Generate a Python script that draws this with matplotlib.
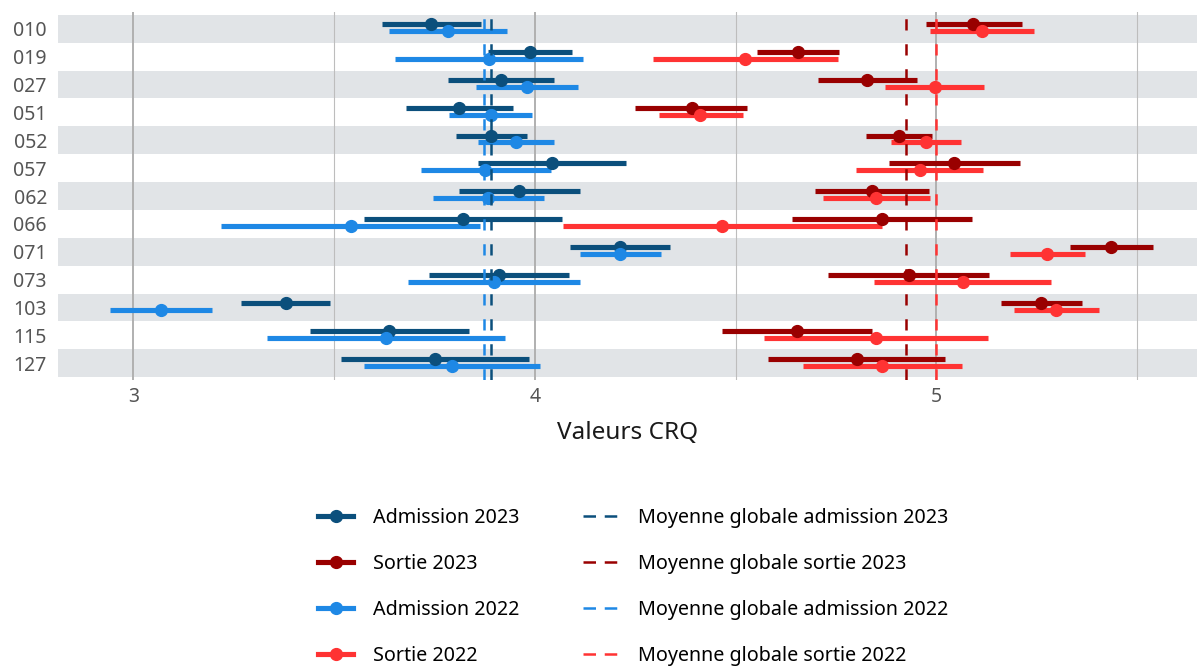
import numpy as np
import matplotlib
matplotlib.use("Agg")
import matplotlib.pyplot as plt
from matplotlib.lines import Line2D

plt.rcParams['font.family'] = ['Noto Sans', 'DejaVu Sans']

# unites (de haut en bas)
unites = ["010", "019", "027", "051", "052", "057", "062", "066", "071", "073", "103", "115", "127"]

# admission 2023 : borne basse, moyenne, borne haute
adm23_bas = [3.618, 3.883, 3.783, 3.678, 3.804, 3.859, 3.812, 3.574, 4.087, 3.737, 3.268, 3.439, 3.517]
adm23_moy = [3.741, 3.988, 3.915, 3.811, 3.891, 4.042, 3.961, 3.822, 4.212, 3.911, 3.379, 3.637, 3.750]
adm23_haut = [3.865, 4.093, 4.048, 3.945, 3.980, 4.226, 4.112, 4.068, 4.337, 4.086, 3.490, 3.836, 3.985]

# sortie 2023
sor23_bas = [4.973, 4.553, 4.704, 4.250, 4.825, 4.882, 4.697, 4.641, 5.332, 4.731, 5.161, 4.465, 4.580]
sor23_moy = [5.092, 4.656, 4.828, 4.390, 4.907, 5.044, 4.839, 4.864, 5.436, 4.931, 5.261, 4.652, 4.802]
sor23_haut = [5.213, 4.758, 4.951, 4.529, 4.989, 5.208, 4.982, 5.088, 5.540, 5.131, 5.363, 4.840, 5.022]

# admission 2022
adm22_bas = [3.636, 3.651, 3.853, 3.786, 3.858, 3.715, 3.746, 3.218, 4.113, 3.684, 2.942, 3.333, 3.574]
adm22_moy = [3.783, 3.886, 3.981, 3.890, 3.952, 3.876, 3.883, 3.541, 4.212, 3.897, 3.069, 3.629, 3.794]
adm22_haut = [3.931, 4.120, 4.108, 3.993, 4.048, 4.040, 4.023, 3.863, 4.313, 4.112, 3.195, 3.926, 4.013]

# sortie 2022
sor22_bas = [4.985, 4.295, 4.873, 4.310, 4.888, 4.799, 4.717, 4.070, 5.182, 4.845, 5.192, 4.570, 4.668]
sor22_moy = [5.113, 4.524, 4.996, 4.412, 4.975, 4.958, 4.849, 4.466, 5.276, 5.065, 5.297, 4.849, 4.865]
sor22_haut = [5.242, 4.754, 5.119, 4.517, 5.062, 5.116, 4.984, 4.864, 5.371, 5.285, 5.405, 5.128, 5.064]

# moyennes globales
moy_globale = {"adm23": 3.891, "sor23": 4.924, "adm22": 3.874, "sor22": 5.0}

c_adm23 = "#0b4f7c"
c_sor23 = "#990000"
c_adm22 = "#1e88e5"
c_sor22 = "#ff3333"

fig = plt.figure(figsize=(11.97, 6.66), dpi=100)
ax = fig.add_axes([58/1197, 1 - 380/666, 1 - 58/1197, 368/666])

n = len(unites)
y = np.arange(n)

# bandes grises alternees
for i in range(0, n, 2):
    ax.axhspan(i - 0.5, i + 0.5, color="#e1e4e7", lw=0, zorder=0)

# grille
for v in [3, 4, 5]:
    ax.axvline(v, color="#b0b0b0", lw=1.4, zorder=1)
for v in [3.5, 4.5, 5.5]:
    ax.axvline(v, color="#bdbdbd", lw=0.8, zorder=1)

lw_bar = 3.7
ms = 8.5
series = [
    (adm23_bas, adm23_moy, adm23_haut, c_adm23, -0.17),
    (sor23_bas, sor23_moy, sor23_haut, c_sor23, -0.17),
    (adm22_bas, adm22_moy, adm22_haut, c_adm22, 0.08),
    (sor22_bas, sor22_moy, sor22_haut, c_sor22, 0.08),
]
for bas, moy, haut, col, dy in series:
    yy = y + dy
    ax.hlines(yy, bas, haut, color=col, lw=lw_bar, zorder=3)
    ax.plot(moy, yy, 'o', color=col, ms=ms, zorder=4)

dash = (4.5, 5.5)
ax.axvline(moy_globale["adm22"], color=c_adm22, lw=1.8, dashes=dash, zorder=5)
ax.axvline(moy_globale["adm23"], color=c_adm23, lw=1.8, dashes=dash, zorder=5)
ax.axvline(moy_globale["sor23"], color=c_sor23, lw=1.8, dashes=dash, zorder=5)
ax.axvline(moy_globale["sor22"], color=c_sor22, lw=1.8, dashes=dash, zorder=5)

ax.set_xlim(2.812, 5.649)
ax.set_ylim(n - 1 + 0.6, -0.6)
ax.set_yticks(y)
ax.set_yticklabels(unites)
ax.set_xticks([3, 4, 5])
ax.set_xticklabels(["3", "4", "5"])
ax.tick_params(axis='both', length=0, labelsize=14, colors="#555555")
ax.tick_params(axis='y', pad=8)
ax.tick_params(axis='x', pad=5)
for s in ax.spines.values():
    s.set_visible(False)
ax.set_xlabel("Valeurs CRQ", fontsize=17.5, color="#1a1a1a", labelpad=10)

handles = [
    Line2D([], [], color=c_adm23, lw=lw_bar, marker='o', ms=ms),
    Line2D([], [], color=c_sor23, lw=lw_bar, marker='o', ms=ms),
    Line2D([], [], color=c_adm22, lw=lw_bar, marker='o', ms=ms),
    Line2D([], [], color=c_sor22, lw=lw_bar, marker='o', ms=ms),
    Line2D([], [], color=c_adm23, lw=1.8, dashes=(5, 3.5)),
    Line2D([], [], color=c_sor23, lw=1.8, dashes=(5, 3.5)),
    Line2D([], [], color=c_adm22, lw=1.8, dashes=(5, 3.5)),
    Line2D([], [], color=c_sor22, lw=1.8, dashes=(5, 3.5)),
]
labels = ["Admission 2023", "Sortie 2023", "Admission 2022", "Sortie 2022",
          "Moyenne globale admission 2023", "Moyenne globale sortie 2023",
          "Moyenne globale admission 2022", "Moyenne globale sortie 2022"]
fig.legend(handles, labels, ncol=2, loc='center', bbox_to_anchor=(633/1197, 1 - 587/666),
           frameon=False, fontsize=14.2, handlelength=1.8, handletextpad=1.0,
           labelspacing=1.33, columnspacing=3.2)

fig.savefig("out.png", dpi=100)
